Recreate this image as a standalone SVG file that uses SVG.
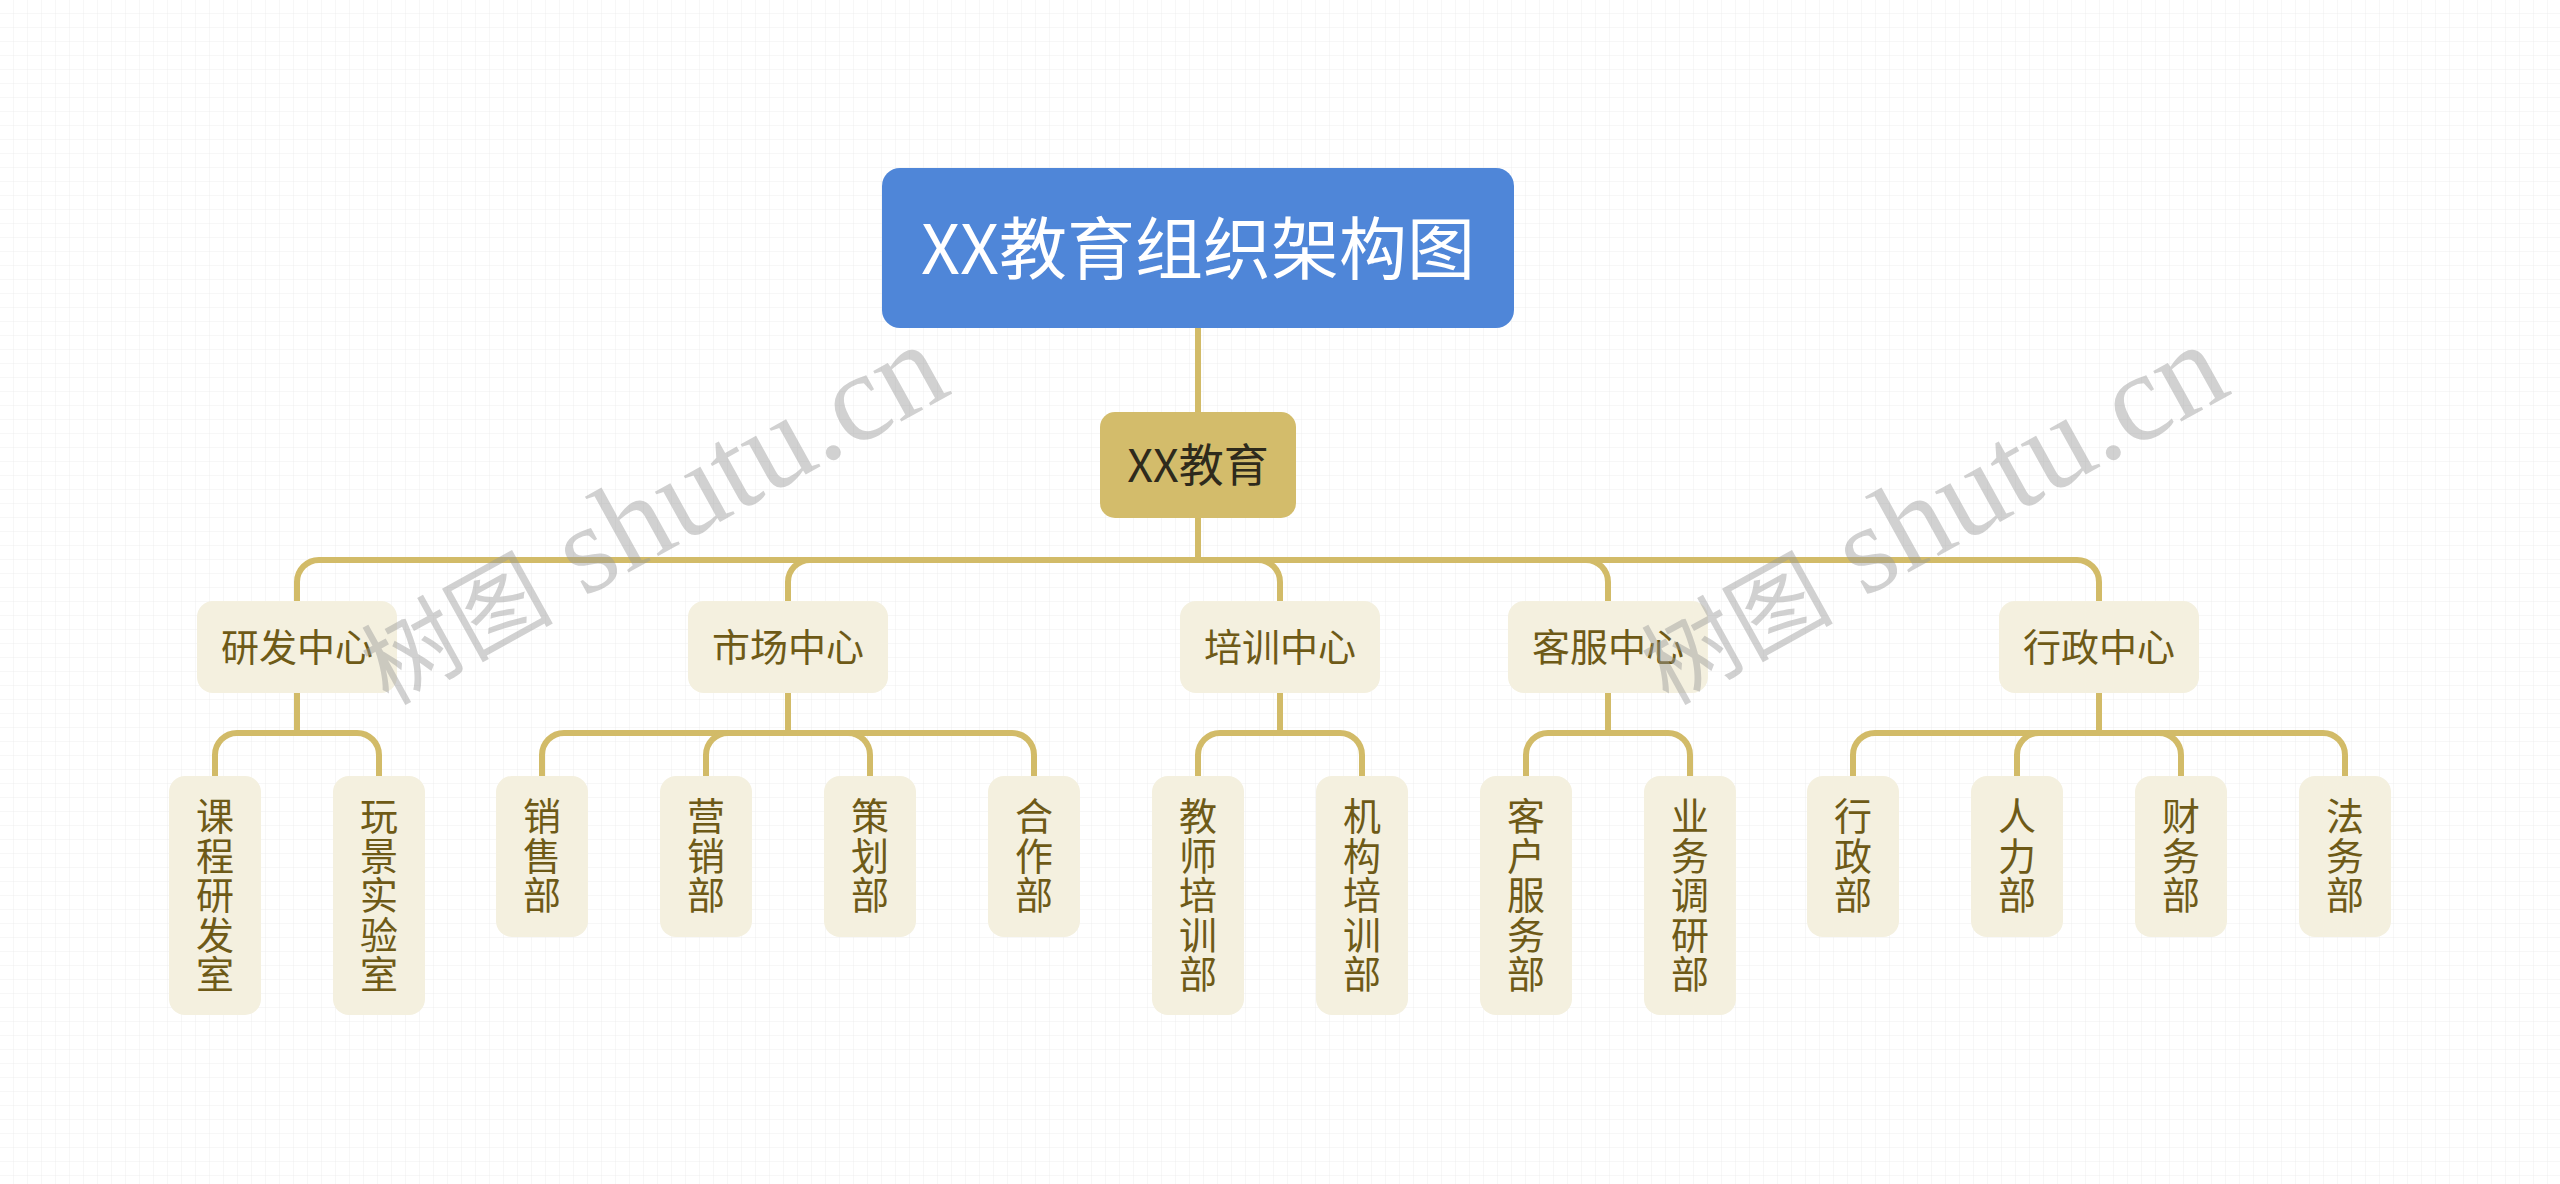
<svg xmlns="http://www.w3.org/2000/svg" width="2560" height="1184" viewBox="0 0 2560 1184">
<style>
.l2 rect,.l3 rect{fill:#f4f0df}
.l2 text,.l3 text{font-family:"Noto Sans CJK SC","Noto Sans",sans-serif;font-size:38px;fill:#6e5a17;text-anchor:middle}
.conn path{fill:none;stroke:#d2bb68;stroke-width:6}
.wm{font-family:"Liberation Serif","Noto Sans CJK SC",serif;font-size:126px;fill:#9a9a9a;opacity:0.45}
.wm .cjk{font-size:96px}
</style>
<defs>
<pattern id="grid" width="14" height="14" patternUnits="userSpaceOnUse">
<path d="M14 0V14M0 14H14" fill="none" stroke="#eeeeee" stroke-width="1"/>
</pattern>
</defs>
<rect width="2560" height="1184" fill="#ffffff"/>
<rect width="2560" height="1184" fill="url(#grid)"/>

<g class="conn" id="connectors">
<path d="M1198 328V412"/>
<path d="M1198 518V560H319A22 22 0 0 0 297 582V601"/>
<path d="M1198 518V560H810A22 22 0 0 0 788 582V601"/>
<path d="M1198 518V560H1258A22 22 0 0 1 1280 582V601"/>
<path d="M1198 518V560H1586A22 22 0 0 1 1608 582V601"/>
<path d="M1198 518V560H2077A22 22 0 0 1 2099 582V601"/>
<path d="M297 693V733H237A22 22 0 0 0 215 755V776"/>
<path d="M297 693V733H357A22 22 0 0 1 379 755V776"/>
<path d="M788 693V733H564A22 22 0 0 0 542 755V776"/>
<path d="M788 693V733H728A22 22 0 0 0 706 755V776"/>
<path d="M788 693V733H848A22 22 0 0 1 870 755V776"/>
<path d="M788 693V733H1012A22 22 0 0 1 1034 755V776"/>
<path d="M1280 693V733H1220A22 22 0 0 0 1198 755V776"/>
<path d="M1280 693V733H1340A22 22 0 0 1 1362 755V776"/>
<path d="M1608 693V733H1548A22 22 0 0 0 1526 755V776"/>
<path d="M1608 693V733H1668A22 22 0 0 1 1690 755V776"/>
<path d="M2099 693V733H1875A22 22 0 0 0 1853 755V776"/>
<path d="M2099 693V733H2039A22 22 0 0 0 2017 755V776"/>
<path d="M2099 693V733H2159A22 22 0 0 1 2181 755V776"/>
<path d="M2099 693V733H2323A22 22 0 0 1 2345 755V776"/>
</g>

<g id="root">
<rect x="882" y="168" width="632" height="160" rx="18" fill="#4f86d8"/>
<text x="1198" y="274" font-family="Noto Sans CJK SC, Noto Sans, sans-serif" font-size="68" fill="#ffffff" text-anchor="middle">XX教育组织架构图</text>
</g>
<g id="main">
<rect x="1100" y="412" width="196" height="106" rx="15" fill="#d3bc6b"/>
<text x="1198" y="482" font-family="Noto Sans CJK SC, Noto Sans, sans-serif" font-size="45" fill="#2e2a1c" text-anchor="middle">XX教育</text>
</g>

<g id="n-yanfa" class="l2"><rect x="197" y="601" width="200" height="92" rx="16"/><text x="297" y="661">研发中心</text></g>
<g id="n-shichang" class="l2"><rect x="688" y="601" width="200" height="92" rx="16"/><text x="788" y="661">市场中心</text></g>
<g id="n-peixun" class="l2"><rect x="1180" y="601" width="200" height="92" rx="16"/><text x="1280" y="661">培训中心</text></g>
<g id="n-kefu" class="l2"><rect x="1508" y="601" width="200" height="92" rx="16"/><text x="1608" y="661">客服中心</text></g>
<g id="n-xingzheng" class="l2"><rect x="1999" y="601" width="200" height="92" rx="16"/><text x="2099" y="661">行政中心</text></g>

<g id="n-kecheng" class="l3"><rect x="169" y="776" width="92" height="239" rx="16"/><text x="215" y="830"><tspan x="215">课</tspan><tspan x="215" dy="39.5">程</tspan><tspan x="215" dy="39.5">研</tspan><tspan x="215" dy="39.5">发</tspan><tspan x="215" dy="39.5">室</tspan></text></g>
<g id="n-wanjing" class="l3"><rect x="333" y="776" width="92" height="239" rx="16"/><text x="379" y="830"><tspan x="379">玩</tspan><tspan x="379" dy="39.5">景</tspan><tspan x="379" dy="39.5">实</tspan><tspan x="379" dy="39.5">验</tspan><tspan x="379" dy="39.5">室</tspan></text></g>
<g id="n-xiaoshou" class="l3"><rect x="496" y="776" width="92" height="161" rx="16"/><text x="542" y="830"><tspan x="542">销</tspan><tspan x="542" dy="39.5">售</tspan><tspan x="542" dy="39.5">部</tspan></text></g>
<g id="n-yingxiao" class="l3"><rect x="660" y="776" width="92" height="161" rx="16"/><text x="706" y="830"><tspan x="706">营</tspan><tspan x="706" dy="39.5">销</tspan><tspan x="706" dy="39.5">部</tspan></text></g>
<g id="n-cehua" class="l3"><rect x="824" y="776" width="92" height="161" rx="16"/><text x="870" y="830"><tspan x="870">策</tspan><tspan x="870" dy="39.5">划</tspan><tspan x="870" dy="39.5">部</tspan></text></g>
<g id="n-hezuo" class="l3"><rect x="988" y="776" width="92" height="161" rx="16"/><text x="1034" y="830"><tspan x="1034">合</tspan><tspan x="1034" dy="39.5">作</tspan><tspan x="1034" dy="39.5">部</tspan></text></g>
<g id="n-jiaoshi" class="l3"><rect x="1152" y="776" width="92" height="239" rx="16"/><text x="1198" y="830"><tspan x="1198">教</tspan><tspan x="1198" dy="39.5">师</tspan><tspan x="1198" dy="39.5">培</tspan><tspan x="1198" dy="39.5">训</tspan><tspan x="1198" dy="39.5">部</tspan></text></g>
<g id="n-jigou" class="l3"><rect x="1316" y="776" width="92" height="239" rx="16"/><text x="1362" y="830"><tspan x="1362">机</tspan><tspan x="1362" dy="39.5">构</tspan><tspan x="1362" dy="39.5">培</tspan><tspan x="1362" dy="39.5">训</tspan><tspan x="1362" dy="39.5">部</tspan></text></g>
<g id="n-kehu" class="l3"><rect x="1480" y="776" width="92" height="239" rx="16"/><text x="1526" y="830"><tspan x="1526">客</tspan><tspan x="1526" dy="39.5">户</tspan><tspan x="1526" dy="39.5">服</tspan><tspan x="1526" dy="39.5">务</tspan><tspan x="1526" dy="39.5">部</tspan></text></g>
<g id="n-yewu" class="l3"><rect x="1644" y="776" width="92" height="239" rx="16"/><text x="1690" y="830"><tspan x="1690">业</tspan><tspan x="1690" dy="39.5">务</tspan><tspan x="1690" dy="39.5">调</tspan><tspan x="1690" dy="39.5">研</tspan><tspan x="1690" dy="39.5">部</tspan></text></g>
<g id="n-xingzhengbu" class="l3"><rect x="1807" y="776" width="92" height="161" rx="16"/><text x="1853" y="830"><tspan x="1853">行</tspan><tspan x="1853" dy="39.5">政</tspan><tspan x="1853" dy="39.5">部</tspan></text></g>
<g id="n-renli" class="l3"><rect x="1971" y="776" width="92" height="161" rx="16"/><text x="2017" y="830"><tspan x="2017">人</tspan><tspan x="2017" dy="39.5">力</tspan><tspan x="2017" dy="39.5">部</tspan></text></g>
<g id="n-caiwu" class="l3"><rect x="2135" y="776" width="92" height="161" rx="16"/><text x="2181" y="830"><tspan x="2181">财</tspan><tspan x="2181" dy="39.5">务</tspan><tspan x="2181" dy="39.5">部</tspan></text></g>
<g id="n-fawu" class="l3"><rect x="2299" y="776" width="92" height="161" rx="16"/><text x="2345" y="830"><tspan x="2345">法</tspan><tspan x="2345" dy="39.5">务</tspan><tspan x="2345" dy="39.5">部</tspan></text></g>

<g id="watermark">
<text class="wm" transform="translate(388 706) rotate(-29)"><tspan class="cjk">树图</tspan> shutu.cn</text>
<text class="wm" transform="translate(1668 706) rotate(-29)"><tspan class="cjk">树图</tspan> shutu.cn</text>
</g>
</svg>
